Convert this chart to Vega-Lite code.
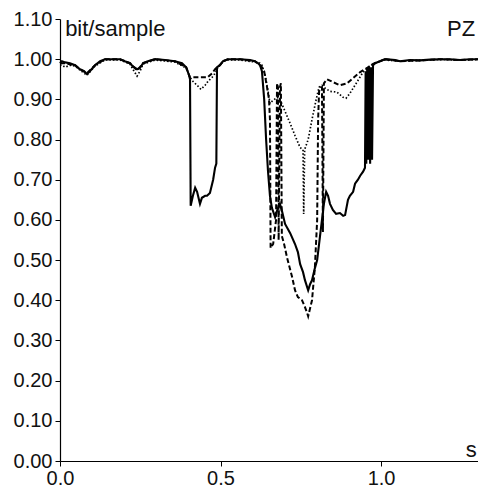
{
  "$schema": "https://vega.github.io/schema/vega-lite/v6.json",
  "width": 418,
  "height": 442,
  "autosize": {"type": "none"},
  "padding": {"left": 60, "top": 19, "right": 0, "bottom": 30},
  "background": "white",
  "config": {
    "view": {"stroke": null},
    "font": "Liberation Sans",
    "axis": {"grid": false, "domainColor": "#000", "tickColor": "#000", "labelColor": "#111", "labelFontSize": 20, "title": null, "domainWidth": 1.2, "tickWidth": 1, "labelFlush": false}
  },
  "datasets": {
    "solid": [
      {"t":0.000,"v":0.990},{"t":0.006,"v":0.995},{"t":0.016,"v":0.992},{"t":0.031,"v":0.990},{"t":0.047,"v":0.985},{"t":0.062,"v":0.975},{"t":0.075,"v":0.970},{"t":0.084,"v":0.963},{"t":0.093,"v":0.970},{"t":0.109,"v":0.985},{"t":0.125,"v":0.995},{"t":0.140,"v":1.000},{"t":0.156,"v":1.000},{"t":0.187,"v":1.000},{"t":0.202,"v":0.995},{"t":0.218,"v":0.990},{"t":0.227,"v":0.982},{"t":0.240,"v":0.975},{"t":0.249,"v":0.978},{"t":0.259,"v":0.990},{"t":0.274,"v":0.995},{"t":0.296,"v":1.000},{"t":0.327,"v":0.998},{"t":0.358,"v":0.995},{"t":0.380,"v":0.990},{"t":0.393,"v":0.980},{"t":0.402,"v":0.960},{"t":0.405,"v":0.950},{"t":0.407,"v":0.635},{"t":0.414,"v":0.660},{"t":0.421,"v":0.680},{"t":0.427,"v":0.670},{"t":0.436,"v":0.640},{"t":0.442,"v":0.655},{"t":0.452,"v":0.660},{"t":0.458,"v":0.660},{"t":0.467,"v":0.667},{"t":0.477,"v":0.700},{"t":0.483,"v":0.730},{"t":0.487,"v":0.740},{"t":0.489,"v":0.980},{"t":0.498,"v":0.985},{"t":0.508,"v":0.995},{"t":0.523,"v":1.000},{"t":0.561,"v":1.000},{"t":0.592,"v":0.998},{"t":0.607,"v":0.995},{"t":0.617,"v":0.990},{"t":0.623,"v":0.985},{"t":0.629,"v":0.970},{"t":0.636,"v":0.900},{"t":0.642,"v":0.800},{"t":0.648,"v":0.720},{"t":0.654,"v":0.660},{"t":0.660,"v":0.630},{"t":0.670,"v":0.607},{"t":0.679,"v":0.630},{"t":0.685,"v":0.640},{"t":0.692,"v":0.620},{"t":0.701,"v":0.590},{"t":0.717,"v":0.567},{"t":0.732,"v":0.540},{"t":0.741,"v":0.520},{"t":0.748,"v":0.490},{"t":0.757,"v":0.470},{"t":0.763,"v":0.450},{"t":0.773,"v":0.425},{"t":0.779,"v":0.440},{"t":0.785,"v":0.450},{"t":0.794,"v":0.480},{"t":0.801,"v":0.500},{"t":0.810,"v":0.560},{"t":0.816,"v":0.600},{"t":0.822,"v":0.640},{"t":0.829,"v":0.670},{"t":0.835,"v":0.660},{"t":0.841,"v":0.640},{"t":0.850,"v":0.625},{"t":0.860,"v":0.615},{"t":0.872,"v":0.617},{"t":0.882,"v":0.610},{"t":0.888,"v":0.612},{"t":0.897,"v":0.650},{"t":0.903,"v":0.660},{"t":0.913,"v":0.670},{"t":0.919,"v":0.690},{"t":0.928,"v":0.700},{"t":0.935,"v":0.710},{"t":0.944,"v":0.720},{"t":0.950,"v":0.730},{"t":0.952,"v":0.970},{"t":0.954,"v":0.740},{"t":0.957,"v":0.980},{"t":0.960,"v":0.750},{"t":0.963,"v":0.980},{"t":0.966,"v":0.740},{"t":0.969,"v":0.980},{"t":0.972,"v":0.750},{"t":0.975,"v":0.985},{"t":0.981,"v":0.990},{"t":0.997,"v":0.995},{"t":1.012,"v":1.000},{"t":1.044,"v":0.998},{"t":1.059,"v":0.995},{"t":1.090,"v":0.998},{"t":1.121,"v":0.997},{"t":1.153,"v":0.999},{"t":1.184,"v":1.000},{"t":1.215,"v":1.000},{"t":1.246,"v":0.998},{"t":1.277,"v":1.000},{"t":1.302,"v":1.000}
    ],
    "dashed": [
      {"t":0.000,"v":0.990},{"t":0.016,"v":0.990},{"t":0.047,"v":0.985},{"t":0.062,"v":0.975},{"t":0.084,"v":0.965},{"t":0.109,"v":0.985},{"t":0.140,"v":1.000},{"t":0.187,"v":1.000},{"t":0.218,"v":0.990},{"t":0.240,"v":0.972},{"t":0.259,"v":0.990},{"t":0.296,"v":1.000},{"t":0.358,"v":0.995},{"t":0.393,"v":0.980},{"t":0.402,"v":0.960},{"t":0.405,"v":0.955},{"t":0.420,"v":0.955},{"t":0.440,"v":0.955},{"t":0.460,"v":0.955},{"t":0.474,"v":0.965},{"t":0.483,"v":0.975},{"t":0.489,"v":0.980},{"t":0.498,"v":0.985},{"t":0.508,"v":0.995},{"t":0.523,"v":1.000},{"t":0.561,"v":1.000},{"t":0.607,"v":0.995},{"t":0.623,"v":0.985},{"t":0.629,"v":0.980},{"t":0.636,"v":0.970},{"t":0.645,"v":0.930},{"t":0.651,"v":0.900},{"t":0.654,"v":0.850},{"t":0.656,"v":0.530},{"t":0.664,"v":0.540},{"t":0.673,"v":0.600},{"t":0.676,"v":0.940},{"t":0.679,"v":0.930},{"t":0.681,"v":0.550},{"t":0.685,"v":0.930},{"t":0.688,"v":0.940},{"t":0.691,"v":0.560},{"t":0.698,"v":0.540},{"t":0.707,"v":0.507},{"t":0.723,"v":0.458},{"t":0.732,"v":0.425},{"t":0.741,"v":0.408},{"t":0.754,"v":0.400},{"t":0.763,"v":0.383},{"t":0.769,"v":0.370},{"t":0.773,"v":0.360},{"t":0.779,"v":0.380},{"t":0.785,"v":0.400},{"t":0.794,"v":0.483},{"t":0.801,"v":0.600},{"t":0.804,"v":0.850},{"t":0.807,"v":0.920},{"t":0.813,"v":0.930},{"t":0.816,"v":0.930},{"t":0.819,"v":0.570},{"t":0.822,"v":0.940},{"t":0.832,"v":0.950},{"t":0.850,"v":0.943},{"t":0.872,"v":0.935},{"t":0.894,"v":0.940},{"t":0.913,"v":0.953},{"t":0.935,"v":0.968},{"t":0.956,"v":0.978},{"t":0.975,"v":0.988},{"t":0.997,"v":0.995},{"t":1.012,"v":1.000},{"t":1.059,"v":0.995},{"t":1.121,"v":0.997},{"t":1.184,"v":1.000},{"t":1.246,"v":0.998},{"t":1.302,"v":1.000}
    ],
    "dotted": [
      {"t":0.000,"v":0.985},{"t":0.006,"v":0.985},{"t":0.016,"v":0.980},{"t":0.031,"v":0.985},{"t":0.047,"v":0.983},{"t":0.062,"v":0.973},{"t":0.084,"v":0.960},{"t":0.109,"v":0.983},{"t":0.140,"v":0.998},{"t":0.187,"v":0.998},{"t":0.218,"v":0.988},{"t":0.227,"v":0.975},{"t":0.240,"v":0.958},{"t":0.249,"v":0.970},{"t":0.259,"v":0.988},{"t":0.296,"v":0.998},{"t":0.358,"v":0.993},{"t":0.393,"v":0.978},{"t":0.405,"v":0.955},{"t":0.414,"v":0.945},{"t":0.427,"v":0.935},{"t":0.439,"v":0.925},{"t":0.452,"v":0.935},{"t":0.461,"v":0.945},{"t":0.474,"v":0.955},{"t":0.483,"v":0.965},{"t":0.492,"v":0.980},{"t":0.508,"v":0.995},{"t":0.523,"v":0.998},{"t":0.561,"v":0.998},{"t":0.607,"v":0.993},{"t":0.623,"v":0.990},{"t":0.629,"v":0.985},{"t":0.639,"v":0.960},{"t":0.648,"v":0.920},{"t":0.654,"v":0.890},{"t":0.660,"v":0.895},{"t":0.676,"v":0.905},{"t":0.685,"v":0.900},{"t":0.701,"v":0.870},{"t":0.717,"v":0.840},{"t":0.732,"v":0.810},{"t":0.748,"v":0.780},{"t":0.757,"v":0.775},{"t":0.759,"v":0.615},{"t":0.762,"v":0.775},{"t":0.773,"v":0.800},{"t":0.785,"v":0.850},{"t":0.798,"v":0.900},{"t":0.807,"v":0.930},{"t":0.816,"v":0.935},{"t":0.826,"v":0.928},{"t":0.841,"v":0.920},{"t":0.863,"v":0.918},{"t":0.882,"v":0.905},{"t":0.891,"v":0.903},{"t":0.903,"v":0.915},{"t":0.925,"v":0.943},{"t":0.944,"v":0.968},{"t":0.960,"v":0.978},{"t":0.975,"v":0.988},{"t":0.997,"v":0.995},{"t":1.012,"v":0.998},{"t":1.059,"v":0.995},{"t":1.121,"v":0.997},{"t":1.184,"v":0.999},{"t":1.246,"v":0.998},{"t":1.302,"v":0.999}
    ],
    "labelsLeft": [
      {"t":0.016,"v":1.057,"txt":"bit/sample"}
    ],
    "labelsRight": [
      {"t":1.293,"v":1.057,"txt":"PZ"},
      {"t":1.298,"v":0.010,"txt":"s"}
    ]
  },
  "encoding": {
    "x": {"field": "t", "type": "quantitative", "scale": {"domain": [0, 1.302], "nice": false, "zero": false},
      "axis": {"values": [0, 0.5, 1.0], "format": ".1f", "tickSize": 5, "labelPadding": 2}},
    "y": {"field": "v", "type": "quantitative", "scale": {"domain": [0, 1.1], "nice": false},
      "axis": {"values": [0, 0.1, 0.2, 0.3, 0.4, 0.5, 0.6, 0.7, 0.8, 0.9, 1.0, 1.1], "format": ".2f", "tickSize": 5, "labelPadding": 3}}
  },
  "layer": [
    {"data": {"name": "dotted"}, "mark": {"type": "line", "color": "#000", "strokeWidth": 1.7, "strokeDash": [1.5, 2]}},
    {"data": {"name": "dashed"}, "mark": {"type": "line", "color": "#000", "strokeWidth": 2, "strokeDash": [5, 2.5]}},
    {"data": {"name": "solid"}, "mark": {"type": "line", "color": "#000", "strokeWidth": 2.1}},
    {"data": {"name": "labelsLeft"}, "mark": {"type": "text", "fontSize": 22, "color": "#111", "baseline": "alphabetic", "align": "left"},
      "encoding": {"text": {"field": "txt"}}},
    {"data": {"name": "labelsRight"}, "mark": {"type": "text", "fontSize": 22, "color": "#111", "baseline": "alphabetic", "align": "right"},
      "encoding": {"text": {"field": "txt"}}}
  ]
}
